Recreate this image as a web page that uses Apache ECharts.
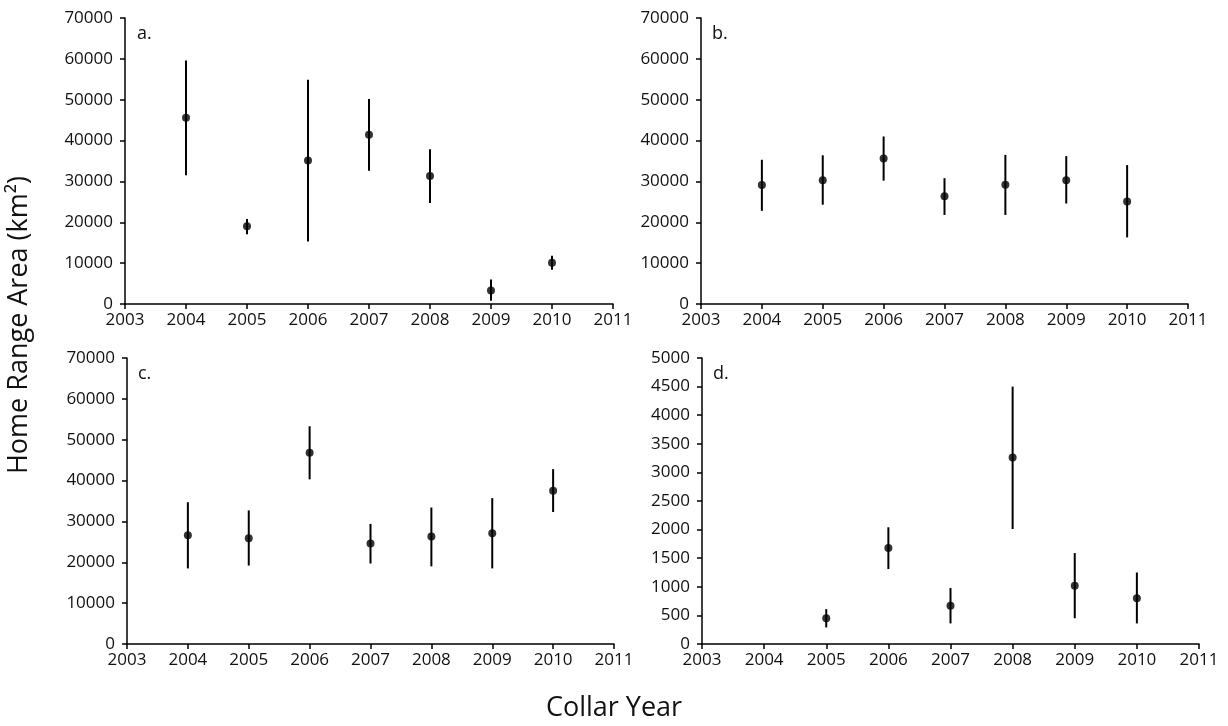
<!DOCTYPE html>
<html><head><meta charset="utf-8">
<script src="https://cdn.jsdelivr.net/npm/echarts@6/dist/echarts.min.js"></script>
<style>html,body{margin:0;padding:0;background:#fff}#c{width:1228px;height:726px}</style>
</head><body><div id="c"></div>
<script>
const xTicks = [2003, 2004, 2005, 2006, 2007, 2008, 2009, 2010, 2011];
const panelLabels = ['a.', 'b.', 'c.', 'd.'];

// Panel a
const aYears = [2004, 2005, 2006, 2007, 2008, 2009, 2010];
const aMean = [45600, 19000, 35100, 41400, 31300, 3300, 10100];
const aLow  = [31500, 17100, 15300, 32600, 24700, 800, 8400];
const aHigh = [59600, 20800, 54900, 50200, 37900, 6000, 11800];
// Panel b
const bYears = [2004, 2005, 2006, 2007, 2008, 2009, 2010];
const bMean = [29100, 30300, 35600, 26400, 29200, 30300, 25100];
const bLow  = [22800, 24300, 30200, 21800, 21800, 24600, 16300];
const bHigh = [35300, 36400, 41000, 30800, 36500, 36200, 34000];
// Panel c
const cYears = [2004, 2005, 2006, 2007, 2008, 2009, 2010];
const cMean = [26600, 25900, 46800, 24600, 26300, 27100, 37500];
const cLow  = [18500, 19200, 40300, 19700, 19000, 18500, 32300];
const cHigh = [34700, 32700, 53300, 29400, 33400, 35700, 42800];
// Panel d
const dYears = [2005, 2006, 2007, 2008, 2009, 2010];
const dMean = [450, 1680, 670, 3260, 1020, 800];
const dLow  = [290, 1310, 360, 2010, 450, 360];
const dHigh = [610, 2040, 980, 4500, 1590, 1250];

const yMax = [70000, 70000, 70000, 5000];
const yStep = [10000, 10000, 10000, 500];

const panels = [
  {yrs: aYears, mean: aMean, low: aLow, high: aHigh},
  {yrs: bYears, mean: bMean, low: bLow, high: bHigh},
  {yrs: cYears, mean: cMean, low: cLow, high: cHigh},
  {yrs: dYears, mean: dMean, low: dLow, high: dHigh}
];

const FONT = '"Open Sans"';
const grids = [
  {left: 125, right: 615, top: 18, height: 286},
  {left: 701, right: 40, top: 18, height: 286},
  {left: 127, right: 614, top: 358, height: 286},
  {left: 702, right: 29, top: 358, height: 286}
];

const axisLine = {lineStyle: {color: '#000', width: 1.5}};
const axisTick = {show: true, inside: false, length: 5, lineStyle: {color: '#000', width: 1.5}};
const axisLabel = {color: '#111', fontFamily: FONT, fontSize: 17, formatter: v => String(v)};

const xAxis = grids.map((g, i) => ({
  type: 'value', gridIndex: i, min: xTicks[0], max: xTicks[xTicks.length - 1], interval: 1,
  axisLine: Object.assign({onZero: false}, axisLine), axisTick, splitLine: {show: false},
  axisLabel: Object.assign({margin: 8}, axisLabel)
}));
const yAxis = grids.map((g, i) => ({
  type: 'value', gridIndex: i, min: 0, max: yMax[i], interval: yStep[i],
  axisLine: Object.assign({show: true}, axisLine), axisTick, splitLine: {show: false},
  axisLabel: Object.assign({margin: 12}, axisLabel)
}));

const series = [];
panels.forEach((p, i) => {
  const errData = p.yrs.map((y, k) => [y, p.low[k], p.high[k]]);
  series.push({
    type: 'custom', xAxisIndex: i, yAxisIndex: i, data: errData, silent: true,
    renderItem: (params, api) => {
      const a = api.coord([api.value(0), api.value(1)]);
      const b = api.coord([api.value(0), api.value(2)]);
      return {type: 'line', shape: {x1: a[0], y1: a[1], x2: b[0], y2: b[1]},
        style: {stroke: '#000', lineWidth: 2}};
    },
    encode: {x: 0, y: [1, 2]}
  });
  series.push({
    type: 'scatter', xAxisIndex: i, yAxisIndex: i, symbol: 'circle', symbolSize: 8,
    itemStyle: {color: '#000'}, data: p.yrs.map((y, k) => [y, p.mean[k]]), z: 5
  });
});

const labelPos = [[132, 20], [707, 20], [133, 360], [708, 360]];
const title = panelLabels.map((t, i) => ({
  text: t, left: labelPos[i][0], top: labelPos[i][1],
  textStyle: {fontFamily: FONT, fontSize: 18, fontWeight: 'normal', color: '#111'}
}));

const chart = echarts.init(document.getElementById('c'), null, {renderer: 'canvas'});
chart.setOption({
  animation: false,
  backgroundColor: '#fff',
  title,
  grid: grids,
  xAxis, yAxis, series,
  graphic: [
    {type: 'text', left: 'center', top: 695, style: {text: 'Collar Year', font: '27px ' + FONT, fill: '#111'}},
    {type: 'text', x: 6, y: 325, rotation: Math.PI / 2,
      style: {text: 'Home Range Area (km²)', font: '27px ' + FONT, fill: '#111', align: 'center', verticalAlign: 'top'}}
  ]
});
</script></body></html>
